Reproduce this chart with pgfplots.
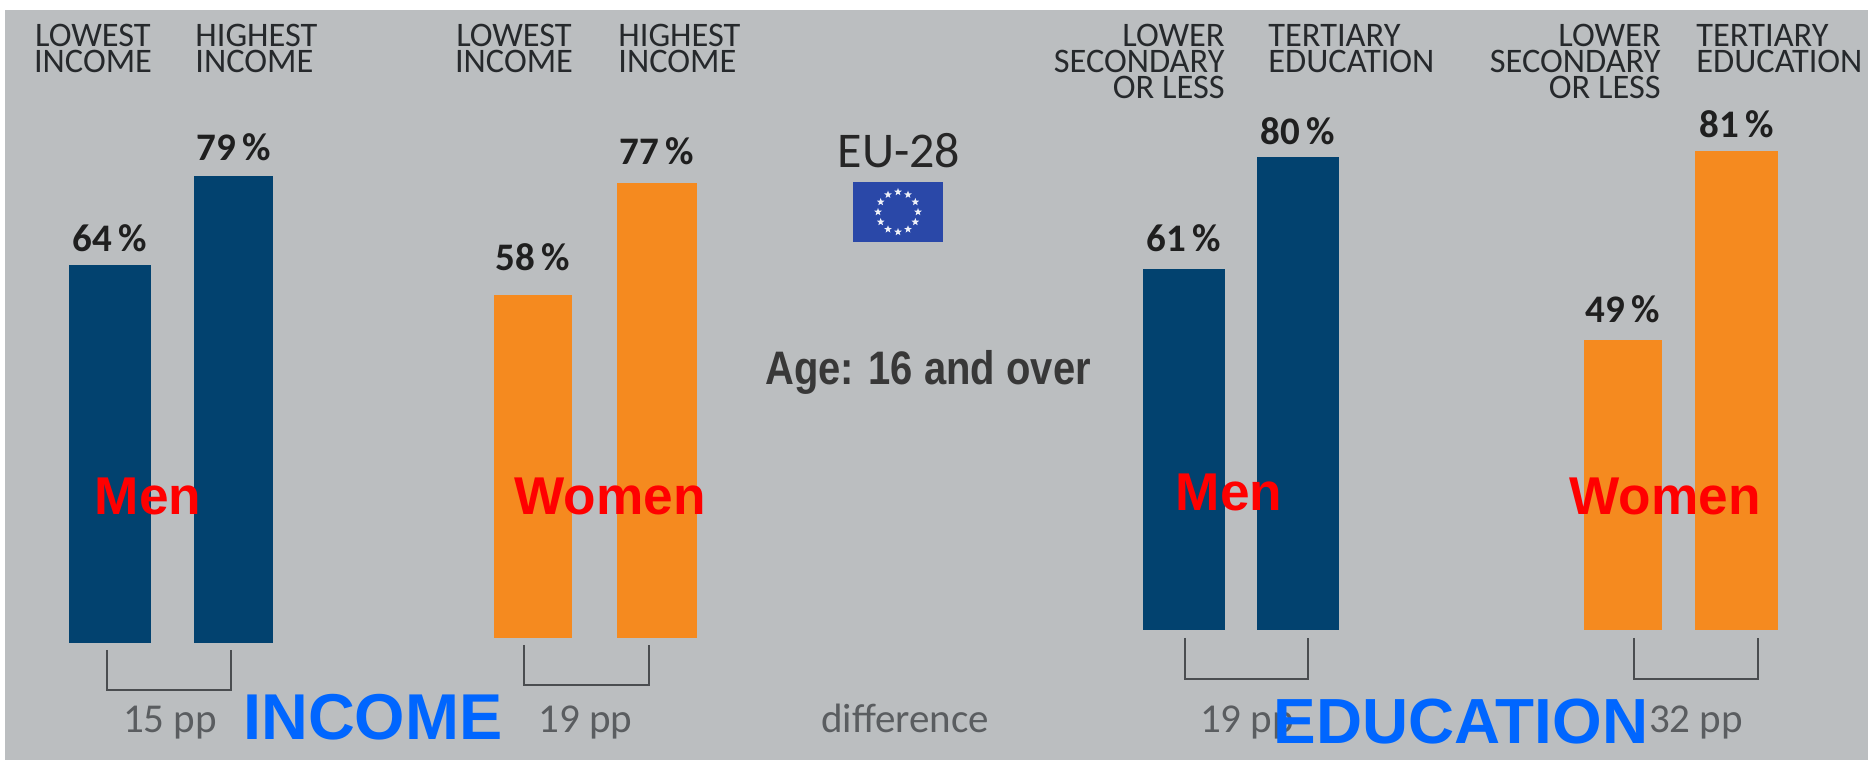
\documentclass[border=0pt]{standalone}
\usepackage{fontspec}
\usepackage{pgfplots}
\pgfplotsset{compat=1.18}
\usetikzlibrary{shapes.geometric}
\setmainfont{Carlito}
\newfontfamily\arialb[BoldFont={Liberation Sans Bold}]{Liberation Sans}
\definecolor{bgc}{HTML}{BBBEC0}
\definecolor{navy}{HTML}{02426F}
\definecolor{orng}{HTML}{F58A1F}
\definecolor{hdr}{HTML}{26292C}
\definecolor{soft}{HTML}{5A5D60}
\definecolor{brk}{HTML}{4A4D50}
\definecolor{bluet}{HTML}{0066FF}
\definecolor{flag}{HTML}{2A48A8}
\newcommand{\fnt}[1]{\fontsize{#1}{#1}\selectfont}
\pgfplotsset{panel/.style={hide axis,scale only axis,width=934pt,height=295.5pt,
  xmin=0,xmax=1868,ymin=0,ymax=100,clip=false,anchor=south west,
  /pgf/number format/assume math mode=true}}
% x centre, value, bar width in pt, colour, gap of the label above the bar in pt
\newcommand{\onebar}[5]{%
  \addplot[ybar,bar width=#3,bar shift=0pt,fill=#4,draw=none,
    nodes near coords={\pgfmathprintnumber{\pgfplotspointmeta}\,\%},
    every node near coord/.append style={anchor=base,yshift=#5,text=black!88,
      font=\fnt{19.5}\bfseries}]
    coordinates {(#1,#2)};}
\newcommand{\hl}[4]{\node[anchor=#1,inner sep=0,text=hdr,font=\fnt{17.2}] at (#2,#3) {#4};}
\newcommand{\brkt}[4]{\draw[brk,line width=1.3pt,line join=miter] (#1,#3)--(#1,#4)--(#2,#4)--(#2,#3);}
\begin{document}
\begin{tikzpicture}
\begin{scope}[x=0.5pt,y=-0.5pt,yshift=380pt]
  \fill[white] (0,0) rectangle (1868,760);
  \fill[bgc] (5,10) rectangle (1868,760);
\end{scope}

\begin{axis}[panel,at={(0pt,58.5pt)}]
  \onebar{109.5}{64}{41pt}{navy}{6.5pt}
  \onebar{233.5}{79}{39.5pt}{navy}{8pt}
\end{axis}
\begin{axis}[panel,at={(0pt,61pt)}]
  \onebar{533}{58}{39pt}{orng}{12.5pt}
  \onebar{657}{77}{40pt}{orng}{9pt}
\end{axis}
\begin{axis}[panel,at={(0pt,65pt)}]
  \onebar{1184}{61}{41pt}{navy}{9pt}
  \onebar{1298}{80}{41pt}{navy}{6.5pt}
\end{axis}
\begin{axis}[panel,at={(0pt,65pt)}]
  \onebar{1623}{49}{39pt}{orng}{9pt}
  \onebar{1736.5}{81}{41.5pt}{orng}{7pt}
\end{axis}

\begin{scope}[x=0.5pt,y=-0.5pt,yshift=380pt]
  % column headings
  \hl{base}{93}{47}{LOWEST}\hl{base}{93}{73}{INCOME}
  \hl{base west}{195}{47}{HIGHEST}\hl{base west}{195}{73}{INCOME}
  \hl{base}{514}{47}{LOWEST}\hl{base}{514}{73}{INCOME}
  \hl{base west}{618}{47}{HIGHEST}\hl{base west}{618}{73}{INCOME}
  \hl{base east}{1225}{47}{LOWER}\hl{base east}{1225}{73}{SECONDARY}\hl{base east}{1225}{99}{OR LESS}
  \hl{base west}{1268}{47}{TERTIARY}\hl{base west}{1268}{73}{EDUCATION}
  \hl{base east}{1661}{47}{LOWER}\hl{base east}{1661}{73}{SECONDARY}\hl{base east}{1661}{99}{OR LESS}
  \hl{base west}{1696}{47}{TERTIARY}\hl{base west}{1696}{73}{EDUCATION}
  % brackets
  \brkt{107}{231}{650}{690}
  \brkt{524}{649}{645}{685}
  \brkt{1185}{1308}{638}{679}
  \brkt{1634}{1758}{638}{679}
  % differences
  \node[anchor=base,inner sep=0,text=soft,font=\fnt{20.5}] at (170,733) {15 pp};
  \node[anchor=base,inner sep=0,text=soft,font=\fnt{20.5}] at (585.5,733) {19 pp};
  \node[anchor=base,inner sep=0,text=soft,font=\fnt{20.5}] at (905,733) {difference};
  \node[anchor=base,inner sep=0,text=soft,font=\fnt{20.5}] at (1247,733) {19 pp};
  \node[anchor=base,inner sep=0,text=soft,font=\fnt{20.5}] at (1696,733) {32 pp};
  % centre block
  \node[anchor=base,inner sep=0,text=black!85,font=\fnt{25}] at (899,168) {EU-28};
  \fill[flag] (853,182) rectangle (943,242);
  \foreach \a in {0,30,...,330}
    \node[star,star points=5,star point ratio=2.4,fill=white!92!flag,inner sep=0,minimum size=4pt]
      at ({898+20*cos(\a)},{212+20*sin(\a)}) {};
  \node[anchor=base,inner sep=0,text=black!78,font=\arialb\fnt{23.5}\bfseries,xscale=0.85,transform shape] at (928,385) {Age: 16 and over};
  % overlays
  \node[anchor=base,inner sep=0,text=red,font=\arialb\fnt{26.6}\bfseries] at (148,515) {Men};
  \node[anchor=base,inner sep=0,text=red,font=\arialb\fnt{26.6}\bfseries] at (610,515) {Women};
  \node[anchor=base,inner sep=0,text=red,font=\arialb\fnt{26.6}\bfseries] at (1229,511) {Men};
  \node[anchor=base,inner sep=0,text=red,font=\arialb\fnt{26.6}\bfseries] at (1665,515) {Women};
  \node[anchor=base,inner sep=0,text=bluet,font=\arialb\fnt{32.4}\bfseries] at (373,740) {INCOME};
  \node[anchor=base,inner sep=0,text=bluet,font=\arialb\fnt{31.9}\bfseries] at (1461,743) {EDUCATION};
\end{scope}
\end{tikzpicture}
\end{document}
